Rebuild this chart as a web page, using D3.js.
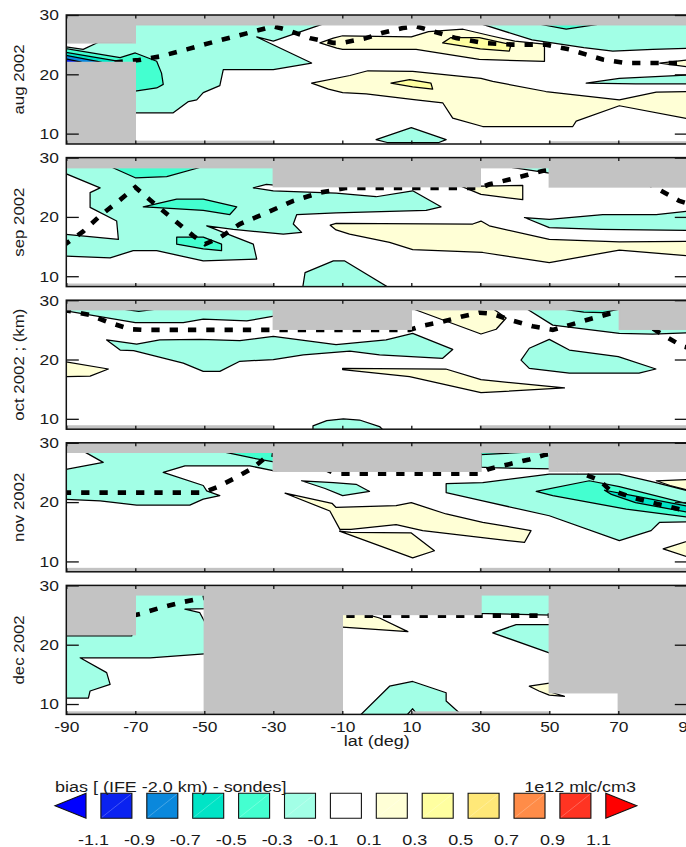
<!DOCTYPE html>
<html>
<head>
<meta charset="utf-8">
<script src="https://cdn.jsdelivr.net/npm/d3@7/dist/d3.min.js"></script>
<style>
  body { margin: 0; background: #fff; }
  svg { display: block; }
  text { font-family: "Liberation Sans", Arial, Helvetica, sans-serif; fill: #1a1a1a; }
</style>
</head>
<body>
<svg id="chart" width="686" height="847"></svg>
<script>
// ---- axes, labels and colour levels ----
const latTicks = [-90, -70, -50, -30, -10, 10, 30, 50, 70, 90];
const kmTicks = [10, 20, 30];
const months = ["aug 2002", "sep 2002", "oct 2002 ; (km)", "nov 2002", "dec 2002"];
const levels = [-1.1, -0.9, -0.7, -0.5, -0.3, -0.1, 0.1, 0.3, 0.5, 0.7, 0.9, 1.1];
const levelLabels = ["-1.1", "-0.9", "-0.7", "-0.5", "-0.3", "-0.1", "0.1", "0.3", "0.5", "0.7", "0.9", "1.1"];
const levelColors = ["#0000ff", "#0a22f0", "#0a88dc", "#00e4c6", "#44ffd0", "#a2ffe6",
                     "#ffffff", "#ffffd6", "#ffffa0", "#ffe878", "#ff8c48", "#ff3422", "#ff0000"];

// ---- missing-data boxes per month: [lat0, lat1, km0, km1] ----
const augGaps = [[-91, 91, 28.35, 31], [-91, -70, 25.3, 31], [-91, -70, 7, 22.0], [-70, -30, 7, 8.7], [50, 91, 7, 8.6]];
const sepGaps = [[-91, 91, 28.3, 31], [-30, 30, 25.1, 31], [50, 91, 25.05, 31], [-91, -30, 7, 8.65], [30, 91, 7, 8.65]];
const octGaps = [[-91, 91, 28.4, 31], [-30, 10, 25.1, 31], [70.3, 91, 25.1, 31], [-91, -30, 7, 8.8], [30, 91, 7, 8.8]];
const novGaps = [[-91, 91, 28.4, 31], [-30, 30.2, 25.2, 31], [50, 91, 25.2, 31], [-91, -10, 7, 8.8], [30, 91, 7, 8.8]];
const decGaps = [[-91, -70, 21.7, 31], [-70, -50, 28.4, 31], [-50, -10, 7, 31], [-10, 30.2, 25.1, 31],
                 [30.2, 50, 28.4, 31], [50, 70, 11.9, 31], [70, 91, 7, 31], [-91, -50, 7, 8.65], [10, 50, 7, 8.65]];

// ---- filled bias bands per month: v = bias (1e12 mlc/cm3), pts = [lat, km] outline ----
const augBands = [
  {v: -0.2, pts: [[-71, 28.5], [-15.5, 28.5], [-30, 25.6], [-34.8, 26.3], [-18.9, 21.9], [-30, 20.8], [-44.5, 20.8], [-45.5, 18.1], [-50.3, 16.9], [-52.2, 15.7], [-54.6, 15.4], [-59, 13.5], [-71, 13.5], [-71, 21.9], [-91, 21.9], [-91, 24.7], [-85.1, 24.2], [-80.7, 25.4], [-71, 25.4]]},
  {v: -0.4, pts: [[-91, 24.4], [-74.4, 22.8], [-70, 23.6], [-63.8, 22.2], [-62.4, 20.2], [-61.9, 18.3], [-63.8, 17.7], [-71, 17.1], [-71, 21.9], [-91, 21.9]]},
  {v: -0.6, pts: [[-91, 23.8], [-76, 22.3], [-73, 21.9], [-91, 21.9]]},
  {v: -0.8, pts: [[-91, 23.3], [-81, 22.2], [-79, 21.9], [-91, 21.9]]},
  {v: -1.0, pts: [[-91, 22.7], [-86, 22.1], [-85, 21.9], [-91, 21.9]]},
  {v: -0.2, pts: [[30.2, 28.5], [45, 25.8], [60, 24.5], [68.4, 23.9], [80, 24.2], [91, 24.4], [91, 28.5]]},
  {v: -0.4, pts: [[47.6, 28.4], [54.9, 27.6], [64, 28.4]]},
  {v: 0.2, pts: [[-16.5, 25.3], [-12.6, 26.1], [-9.9, 26.5], [10, 26.3], [15, 27.2], [25, 27.6], [33, 26.5], [40, 25.6], [48.6, 25.1], [48.6, 22.2], [29.7, 22.5], [11.4, 24.2], [-9.9, 24.2], [-11.6, 24.4]]},
  {v: 0.4, pts: [[19.1, 25.3], [21.5, 26.2], [29.7, 26.2], [38.9, 25], [38.4, 23.9], [30, 24.3]]},
  {v: 0.2, pts: [[-18.9, 18.5], [-7.8, 19.8], [-2.6, 20.6], [10.4, 20.5], [30.2, 19.3], [33.6, 18.8], [49, 17.1], [70.3, 15.7], [81, 17], [91, 17.1], [91, 12.4], [70.3, 14.7], [57.8, 12.1], [56.8, 11.2], [30.7, 11.2], [22, 12.6], [19.1, 15.2], [11.4, 15.7], [-3.1, 16.7], [-9.9, 16.9], [-14, 17.5]]},
  {v: 0.4, pts: [[4.1, 18.5], [9.5, 19.1], [15.7, 18.5], [16.2, 17.5], [10.4, 17.9]]},
  {v: -0.2, pts: [[-0.2, 9.0], [10, 11], [20.1, 9.0], [18, 8.5], [3, 8.5]]},
  {v: -0.2, pts: [[60.7, 18.5], [70.3, 19.3], [91, 19.9], [91, 18.4], [75, 18.4]]},
  {v: 0.2, pts: [[82, 21.9], [91, 22.5], [91, 21.2]]}
];
const sepBands = [
  {v: -0.2, pts: [[-91, 28.5], [-29, 28.5], [-29, 25.3], [-32, 25.5], [-35.8, 24.9], [-30, 24.4], [-11.8, 24.0], [-0.2, 23.4], [10.4, 24.4], [18.6, 21.7], [14.3, 21.1], [-11.8, 20.7], [-23.2, 20.4], [-24.2, 18.8], [-21.8, 17.4], [-27.1, 17.1], [-41.6, 17.9], [-49.3, 18.5], [-35.8, 15.4], [-34.8, 12.9], [-50.3, 12.6], [-63.8, 14.3], [-70.6, 14.3], [-77.3, 13.1], [-91, 13.4], [-91, 17.1], [-74.9, 16.2], [-75.4, 19.3], [-83.1, 21.6], [-83.1, 24.1], [-80.2, 24.9], [-91, 27.5]]},
  {v: -0.4, pts: [[-77.3, 28.5], [-70, 26.6], [-60.9, 26.8], [-50.3, 28.5]]},
  {v: -0.4, pts: [[-67.7, 21.7], [-58, 23], [-50.3, 23], [-40.6, 21.7], [-42.6, 20.4], [-50.3, 21.1], [-64.8, 21.6]]},
  {v: -0.4, pts: [[-58, 16.6], [-50.3, 16.6], [-45, 15.4], [-45, 14.3], [-50.3, 14.6], [-58, 15.4]]},
  {v: 0.2, pts: [[24.4, 25.2], [31, 25.2], [42.3, 25.3], [42.3, 22.9], [30.2, 23.8]]},
  {v: -0.2, pts: [[37.5, 28.5], [51, 28.5], [51, 27.3]]},
  {v: 0.2, pts: [[-13.5, 18.6], [-11.8, 18.9], [27.8, 18.8], [30.2, 19.3], [32.6, 18.5], [50, 16.2], [70.3, 15.8], [91, 15.9], [91, 13.4], [70.3, 14.4], [50, 12.3], [30.7, 14], [10.4, 14.5], [3.7, 15.7], [-7.9, 17.1], [-11.8, 17.8]]},
  {v: -0.2, pts: [[42.8, 19.9], [50, 19.6], [65.5, 20.4], [81, 20.4], [91, 21.0], [91, 17.7], [65, 17.9], [50, 18.2]]},
  {v: -0.2, pts: [[-21.5, 8.0], [-20.8, 10.6], [-12.6, 12.6], [-9.4, 12.6], [3.7, 8.0]]}
];
const octBands = [
  {v: -0.2, pts: [[-91, 28.6], [-29, 28.6], [-29, 27.4], [-37.7, 26.5], [-50.3, 26.8], [-56.1, 26.2], [-70, 26.2], [-91, 28.3]]},
  {v: -0.4, pts: [[-73.5, 28.5], [-69, 28.1], [-64, 28.5]]},
  {v: -0.2, pts: [[-78.3, 23.3], [-69.6, 22.6], [-62.9, 23.3], [-51.3, 23.4], [-39.7, 23.2], [-30, 23.9], [-11.8, 22.5], [2.7, 23.3], [10.4, 24.4], [22, 21.7], [19.1, 20.2], [0.8, 20.8], [-7.8, 21.4], [-21.3, 20.8], [-30, 20], [-39.7, 19.7], [-45.5, 18], [-50.3, 18], [-56.1, 19.4], [-70.5, 21.5], [-74.4, 21.6]]},
  {v: 0.2, pts: [[-91, 19.7], [-77.8, 18.4], [-83.1, 17.2], [-91, 17.1]]},
  {v: -0.2, pts: [[-18.5, 8.8], [-14.5, 9.7], [-9.7, 10.0], [-5, 9.8], [0.8, 8.7], [2, 8.0], [-18.5, 8.0]]},
  {v: 0.2, pts: [[10.2, 28.6], [33.6, 28.6], [37.5, 27], [34.6, 25.1], [30.2, 24.3]]},
  {v: -0.2, pts: [[43.3, 28.6], [51, 25.8], [70.3, 24.4], [80, 24.3], [91, 24.5], [91, 28.6]]},
  {v: -0.4, pts: [[54, 28.5], [60, 28.0], [65.5, 27.9], [70.3, 28.5]]},
  {v: -0.2, pts: [[50, 23.4], [44.2, 21.9], [41.8, 19.9], [44.2, 18.5], [55.8, 17.7], [76, 17.7], [80.9, 18.4], [70, 20.5], [55.8, 21.6]]},
  {v: 0.2, pts: [[-9.9, 18.5], [20, 18.4], [30.2, 16.6], [54.4, 15.2], [30.2, 14.4], [9.5, 17.1], [-9.9, 18.3]]}
];
const novBands = [
  {v: -0.2, pts: [[-85.1, 28.6], [-29, 28.6], [-29, 25.2], [-36.8, 26.1], [-55.6, 26.1], [-61.9, 25], [-50.3, 22.8], [-49.3, 21.9], [-45.5, 21.1], [-50.3, 20.5], [-54.2, 19.5], [-69.6, 19.5], [-80.2, 20.2], [-91, 20.5], [-91, 25.4], [-79.3, 26.7]]},
  {v: -0.4, pts: [[-45.5, 28.6], [-35.8, 27.4], [-29, 26.7], [-29, 28.6]]},
  {v: -0.2, pts: [[-21.8, 23.6], [-12.6, 23.3], [-6, 23.0], [-2.1, 21.8], [-9.9, 21.1], [-15, 22.3]]},
  {v: 0.2, pts: [[-26.6, 21.5], [-13, 19.8], [-11.8, 19.1], [5.6, 19.4], [10, 19.9], [20.1, 18], [30.7, 16.6], [44.7, 15.2], [42.8, 13.2], [13.3, 15.2], [5.6, 16.2], [-7.5, 15.4], [-10.7, 15.4], [-13.6, 18.5]]},
  {v: 0.2, pts: [[-10.8, 15.1], [-7.5, 14.9], [10, 14.8], [16.7, 11.8], [10.4, 10.6]]},
  {v: -0.2, pts: [[30.2, 28.6], [51, 28.6], [51, 25.6], [32.6, 25.8], [30.2, 25.9]]},
  {v: -0.4, pts: [[30.2, 28.6], [49, 28.6], [30.2, 28.0]]},
  {v: -0.2, pts: [[20.1, 23.1], [30.7, 23.3], [50, 24.7], [70.3, 24.7], [80, 23.4], [91, 21.8], [91, 16.7], [82, 16.6], [79.5, 15.2], [70.3, 13.5], [50, 17.7], [30.7, 20.2], [20.1, 21.6]]},
  {v: -0.4, pts: [[46.2, 21.8], [61.6, 23.6], [70.3, 22.6], [91, 19.6], [91, 17.4], [72.3, 18.8], [51, 21.1]]},
  {v: -0.6, pts: [[66, 22.0], [75, 21.0], [91, 19.2], [91, 18.2], [75, 19.9], [68, 21.3]]},
  {v: 0.2, pts: [[81, 23.6], [91, 23.8], [91, 21.9], [85, 22.8]]},
  {v: 0.2, pts: [[83, 12.1], [91, 13.6], [91, 10.6]]}
];
const decBands = [
  {v: -0.2, pts: [[-71, 21.5], [-71, 28.6], [-49, 28.6], [-49, 26.1], [-55.6, 26], [-51.3, 25.4], [-49, 22.9], [-49, 18.5], [-65.7, 17.8], [-86, 17.8], [-78.3, 15.3], [-77.3, 13.3], [-83.1, 12.2], [-83.6, 11], [-91, 11], [-91, 21.5]]},
  {v: 0.2, pts: [[-11, 25.3], [-4, 25.3], [0.8, 24.5], [9, 22.2], [-11, 23]]},
  {v: -0.2, pts: [[29, 28.6], [51, 28.6], [51, 25.0], [29, 25.3]]},
  {v: -0.2, pts: [[33.6, 22], [40.4, 23.4], [51, 23.4], [51, 18.4]]},
  {v: 0.2, pts: [[44.2, 13.0], [51, 13.6], [51, 11.9], [54.4, 11.3], [50, 11.5], [47, 12.2]]},
  {v: -0.2, pts: [[-5, 8.0], [3.7, 13], [10.4, 13.8], [20.1, 11.9], [20.1, 10.5], [24.9, 8.0]]},
  {v: 0, pts: [[8.5, 8.0], [10.4, 9.2], [12, 8.0]]}
];

// ---- dashed reference height per month: [lat, km] ----
const augTropo = [[-76, 22.0], [-69, 22.4], [-62.9, 23], [-55.1, 24.2], [-46.4, 25.6], [-35.8, 27.2], [-30, 28.1], [-26.1, 27.5], [-19.4, 26.1], [-12.6, 25.3], [-9.9, 25.3], [-3.1, 26.1], [1.7, 27], [7.5, 27.8], [11.4, 28.1], [17.2, 27.1], [23, 26.1], [30.7, 25.3], [39.4, 25], [49.1, 25], [55.8, 24.2], [65.5, 22.5], [72.3, 21.9], [91, 21.9]];
const sepTropo = [[-91, 15.1], [-85, 17.6], [-80.2, 20.2], [-75.4, 22.4], [-70, 25], [-64.8, 22.4], [-59, 19.6], [-53.2, 16.8], [-49.8, 15.4], [-45.5, 16.5], [-39.7, 18.8], [-32, 20.7], [-24.2, 22.7], [-16.5, 24.1], [-8.7, 24.9], [30, 24.9], [32.6, 25.5], [38.4, 26.3], [43.8, 27.1], [49, 27.9], [55, 28.3], [75, 27], [80.5, 25], [87.7, 22.7], [91, 22.1]];
const octTropo = [[-91, 28.4], [-83.1, 27.5], [-78.3, 26.4], [-71.5, 25.1], [-68, 25], [9.5, 25], [13.3, 25.7], [19.1, 26.4], [24.4, 27.2], [29.7, 27.9], [33.6, 27.7], [38.4, 26.7], [45.2, 25.6], [51, 25], [55.8, 25.8], [61.6, 26.8], [67.4, 27.7], [70, 28], [78, 26], [81.4, 24.7], [88.7, 22.2], [91, 21.9]];
const novTropo = [[-91, 21.6], [-50.3, 21.6], [-46.4, 22.5], [-40.6, 24.2], [-35.8, 25.8], [-31, 28.1], [-20, 27], [-12, 24.8], [29.7, 24.8], [32.6, 25.6], [38.4, 26.4], [44.2, 27.2], [49, 28], [52, 28.3], [57, 26], [59.7, 24.8], [64.5, 23.7], [67.4, 22.1], [75, 20.6], [87.7, 18.8], [91, 18.4]];
const decTropo = [[-71, 24.9], [-68.6, 25.2], [-62.9, 26.2], [-57, 27.1], [-50.3, 27.9], [-45, 28], [-20, 27], [-12, 24.9], [50, 24.9], [56, 25]];

const panels = [
  {label: months[0], gaps: augGaps, bands: augBands, tropo: augTropo},
  {label: months[1], gaps: sepGaps, bands: sepBands, tropo: sepTropo},
  {label: months[2], gaps: octGaps, bands: octBands, tropo: octTropo},
  {label: months[3], gaps: novGaps, bands: novBands, tropo: novTropo},
  {label: months[4], gaps: decGaps, bands: decBands, tropo: decTropo}
];

// ---- layout ----
const svg = d3.select("#chart");
const SX = 1.16;               // horizontal stretch of the lettering
const GREY = "#c3c3c3";
const panelH = 129, kmMin = 8.25, panelStep = 142.6, firstTop = 15;
const x = d3.scaleLinear().domain([-90, 90]).range([66.3, 687.3]);
const color = d3.scaleThreshold().domain(levels).range(levelColors);
const plain = d => String(d);   // keep an ASCII hyphen for negatives

function label(parent, s, px, py, size, anchor, rot) {
  parent.append("text")
    .attr("transform", `translate(${px},${py}) rotate(${rot || 0}) scale(${SX},1)`)
    .attr("text-anchor", anchor)
    .attr("font-size", size)
    .text(s);
}

function styleAxis(g, size) {
  g.select(".domain").remove();
  g.selectAll(".tick line").attr("stroke", "#111").attr("stroke-width", 1.3);
  g.selectAll(".tick text").attr("font-size", size).attr("font-family", null).attr("fill", "#1a1a1a");
}

panels.forEach((p, i) => {
  const top = firstTop + i * panelStep;
  const y = d3.scaleLinear().domain([kmMin, 30]).range([top + panelH, top]);
  const line = d3.line().x(d => x(d[0])).y(d => y(d[1]));
  const g = svg.append("g").attr("class", "panel");

  const clipId = "clip" + i;
  svg.append("clipPath").attr("id", clipId)
    .append("rect").attr("x", x(-90)).attr("y", y(30))
    .attr("width", x(90) - x(-90)).attr("height", panelH);

  const body = g.append("g").attr("clip-path", `url(#${clipId})`);
  body.append("rect").attr("x", x(-90)).attr("y", y(30))
    .attr("width", x(90) - x(-90)).attr("height", panelH).attr("fill", "#fff");

  body.selectAll("path.band").data(p.bands).join("path")
    .attr("class", "band")
    .attr("d", d => line(d.pts) + "Z")
    .attr("fill", d => color(d.v))
    .attr("stroke", "#000").attr("stroke-width", 1.25).attr("stroke-linejoin", "round");

  body.append("path").attr("d", line(p.tropo))
    .attr("fill", "none").attr("stroke", "#000").attr("stroke-width", 4.6)
    .attr("stroke-dasharray", "8.3,10");

  body.selectAll("rect.gap").data(p.gaps).join("rect")
    .attr("class", "gap")
    .attr("x", d => x(d[0])).attr("width", d => x(d[1]) - x(d[0]))
    .attr("y", d => y(d[3])).attr("height", d => y(d[2]) - y(d[3]))
    .attr("fill", GREY).attr("stroke", GREY).attr("stroke-width", 1.4);

  // frame
  g.append("rect").attr("x", x(-90)).attr("y", y(30))
    .attr("width", x(90) - x(-90)).attr("height", panelH)
    .attr("fill", "none").attr("stroke", "#111").attr("stroke-width", 1.5);

  // ticks
  const left = g.append("g").attr("transform", `translate(${x(-90)},0)`)
    .call(d3.axisLeft(y).tickValues(kmTicks).tickSizeInner(-12.5).tickSizeOuter(0)
      .tickPadding(7.5 / SX).tickFormat(plain));
  styleAxis(left, 15);
  left.selectAll(".tick text").attr("transform", `scale(${SX},1)`);

  const right = g.append("g").attr("transform", `translate(${x(90)},0)`)
    .call(d3.axisRight(y).tickValues(kmTicks).tickSizeInner(-12.5).tickSizeOuter(0).tickFormat(""));
  styleAxis(right, 15);

  const topAx = g.append("g").attr("transform", `translate(0,${y(30)})`)
    .call(d3.axisTop(x).tickValues(latTicks).tickSizeInner(-3.5).tickSizeOuter(0).tickFormat(""));
  styleAxis(topAx, 15);

  const last = i === panels.length - 1;
  const bottom = g.append("g").attr("transform", `translate(0,${y(kmMin)})`)
    .call(d3.axisBottom(x).tickValues(latTicks).tickSizeInner(-3.5).tickSizeOuter(0)
      .tickPadding(7).tickFormat(last ? plain : ""));
  styleAxis(bottom, 15);
  bottom.selectAll(".tick text").attr("transform", `scale(${SX},1)`);

  label(g, p.label, 24, top + panelH / 2, 14.5, "middle", -90);
});

label(svg, "lat (deg)", x(0), 745.5, 15.5, "middle");

// ---- colour legend ----
const legend = svg.append("g");
const itemX = d3.scaleLinear().domain([0, 12]).range([55, 55 + 12 * 45.9]);
const boxW = 31, boxTop = 793.3, boxH = 25;
const items = d3.range(levelColors.length);

legend.selectAll("path.item").data(items).join("path")
  .attr("class", "item")
  .attr("d", k => {
    const x0 = itemX(k), x1 = x0 + boxW, y0 = boxTop, y1 = boxTop + boxH, ym = boxTop + boxH / 2;
    if (k === 0) return `M${x0},${ym}L${x1},${y0}L${x1},${y1}Z`;
    if (k === levelColors.length - 1) return `M${x0},${y0}L${x1},${ym}L${x0},${y1}Z`;
    return `M${x0},${y0}H${x1}V${y1}H${x0}Z`;
  })
  .attr("fill", k => levelColors[k])
  .attr("stroke", "#111").attr("stroke-width", 1.1);

legend.selectAll("line.sheen").data(items.slice(1, -1).filter(k => k !== 6)).join("line")
  .attr("class", "sheen")
  .attr("x1", k => itemX(k) + 1).attr("y1", boxTop + boxH - 1)
  .attr("x2", k => itemX(k) + boxW - 1).attr("y2", boxTop + 1)
  .attr("stroke", "#fff").attr("stroke-opacity", 0.35).attr("stroke-width", 0.7);

levelLabels.forEach((s, i) => label(legend, s, itemX(i) + boxW + 7.5, 844.5, 15.5, "middle"));
label(legend, "bias [ (IFE -2.0 km) - sondes]", 55, 792, 15.5, "start");
label(legend, "1e12 mlc/cm3", 636, 792, 15.5, "end");
</script>
</body>
</html>
